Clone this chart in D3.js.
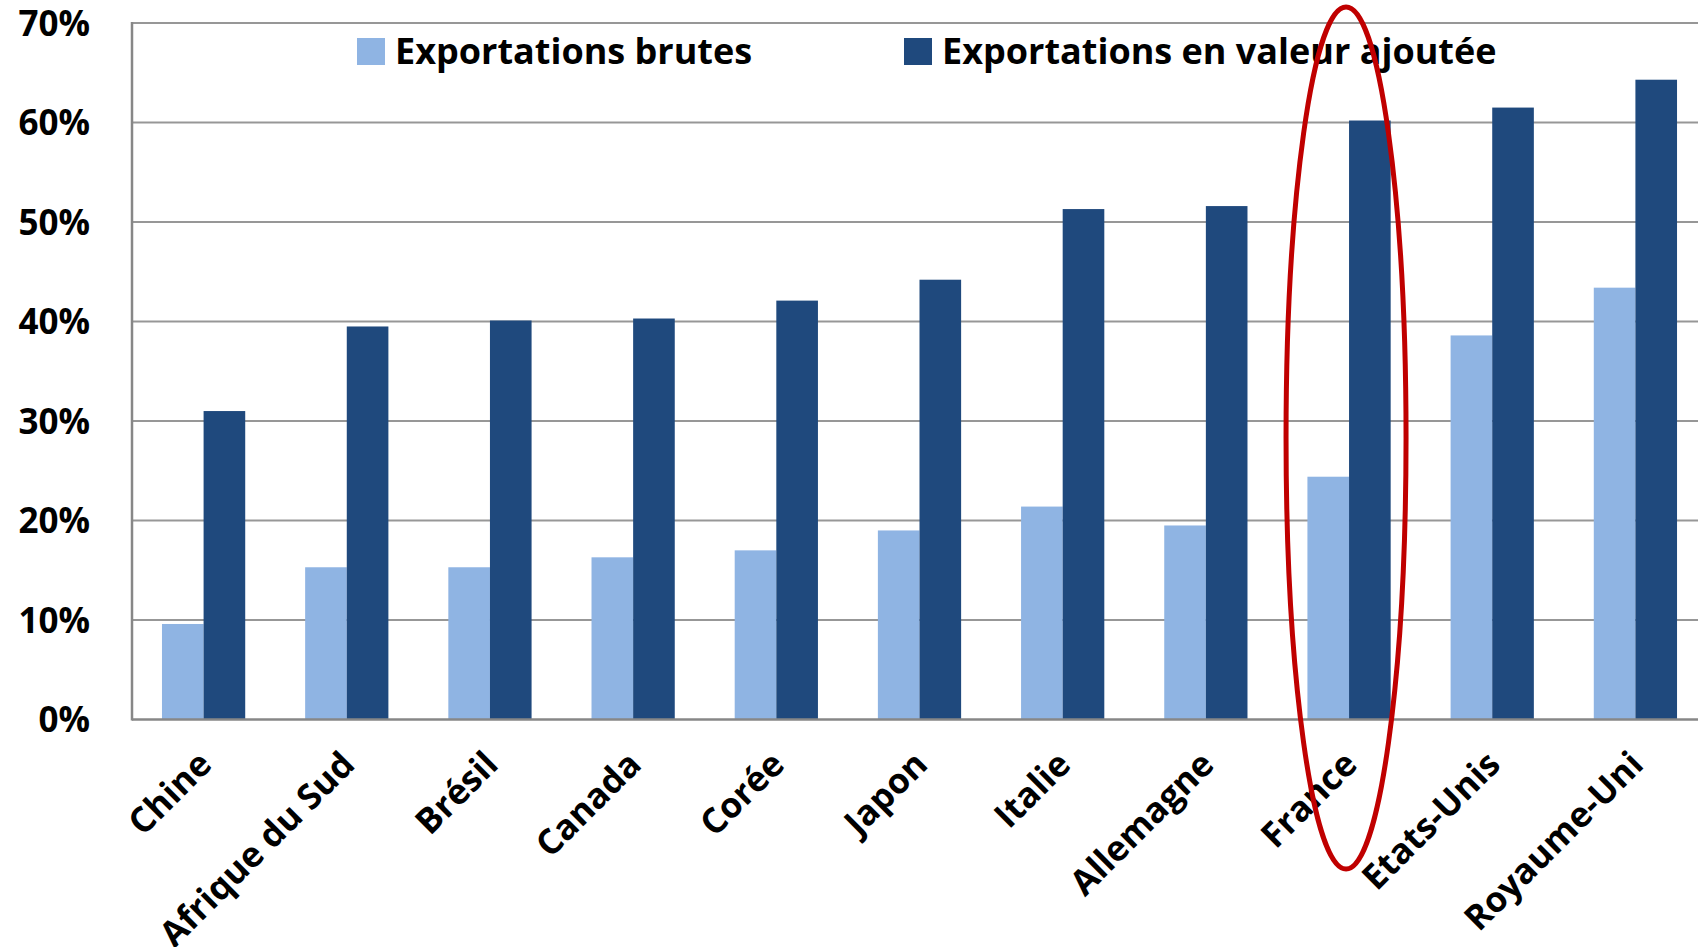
<!DOCTYPE html>
<html>
<head>
<meta charset="utf-8">
<script src="https://cdn.jsdelivr.net/npm/d3@7"></script>
<style>
  body { margin: 0; background: #fff; }
  svg { display: block; font-family: "Open Sans", sans-serif; font-weight: bold; }
</style>
</head>
<body>
<svg id="chart"></svg>
<script>
// --- data ---
const countries = ["Chine", "Afrique du Sud", "Brésil", "Canada", "Corée", "Japon",
                   "Italie", "Allemagne", "France", "Etats-Unis", "Royaume-Uni"];
const grossExports = [9.6, 15.3, 15.3, 16.3, 17.0, 19.0, 21.4, 19.5, 24.4, 38.6, 43.4];
const valueAddedExports = [31.0, 39.5, 40.1, 40.3, 42.1, 44.2, 51.3, 51.6, 60.2, 61.5, 64.3];
const seriesNames = ["Exportations brutes", "Exportations en valeur ajoutée"];
const yTicks = [0, 10, 20, 30, 40, 50, 60, 70];
const highlighted = "France";

const colors = ["#8FB4E3", "#1F497D"];

// --- dimensions ---
const width = 1698, height = 947;
// the plot area runs a little past the right edge of the picture
const margin = { top: 23, right: -9, bottom: 227.5, left: 132 };
const plotBottom = height - margin.bottom;

const svg = d3.select("#chart").attr("width", width).attr("height", height);

const x = d3.scaleBand().domain(countries).range([margin.left, width - margin.right]).padding(0);
const xs = d3.scaleBand().domain([0, 1]).range([0, x.bandwidth()]).paddingInner(0).paddingOuter(0.72);
const y = d3.scaleLinear().domain([0, 70]).range([plotBottom, margin.top]);

// gridlines
svg.append("g")
  .selectAll("line")
  .data(yTicks.filter(d => d > 0))
  .join("line")
  .attr("x1", margin.left).attr("x2", width)
  .attr("y1", d => y(d)).attr("y2", d => y(d))
  .attr("stroke", "#979797").attr("stroke-width", 2);

// y tick labels
svg.append("g")
  .selectAll("text")
  .data(yTicks)
  .join("text")
  .attr("x", 90)
  .attr("y", d => y(d))
  .attr("dy", "0.36em")
  .attr("text-anchor", "end")
  .attr("font-size", 35)
  .attr("fill", "#000")
  .text(d => d + "%");

// bars
const rows = countries.map((c, i) => ({ country: c, values: [grossExports[i], valueAddedExports[i]] }));
const groups = svg.append("g")
  .selectAll("g")
  .data(rows)
  .join("g")
  .attr("transform", d => `translate(${x(d.country)},0)`);

groups.selectAll("rect")
  .data(d => d.values.map((v, k) => ({ k, v })))
  .join("rect")
  .attr("x", d => xs(d.k))
  .attr("width", xs.bandwidth())
  .attr("y", d => y(d.v))
  .attr("height", d => y(0) - y(d.v))
  .attr("fill", d => colors[d.k]);

// axes lines
svg.append("line")
  .attr("x1", margin.left).attr("x2", margin.left)
  .attr("y1", y(70) - 1).attr("y2", y(0) + 1)
  .attr("stroke", "#878787").attr("stroke-width", 2.5);
svg.append("line")
  .attr("x1", margin.left).attr("x2", width)
  .attr("y1", y(0)).attr("y2", y(0))
  .attr("stroke", "#878787").attr("stroke-width", 2.5);

// x labels
svg.append("g")
  .selectAll("text")
  .data(countries)
  .join("text")
  .attr("transform", d => `translate(${x(d) + x.bandwidth() / 2 + 10},${plotBottom + 47}) rotate(-45)`)
  .attr("text-anchor", "end")
  .attr("font-size", 35)
  .attr("fill", "#000")
  .text(d => d);

// legend
const legendX = [357, 904];
const legend = svg.append("g")
  .selectAll("g")
  .data(seriesNames)
  .join("g")
  .attr("transform", (d, i) => `translate(${legendX[i]},38)`);
legend.append("rect")
  .attr("width", 28).attr("height", 27)
  .attr("fill", (d, i) => colors[i]);
legend.append("text")
  .attr("x", 38).attr("y", 26)
  .attr("font-size", 36)
  .attr("fill", "#000")
  .text(d => d);

// red ellipse around France
svg.append("ellipse")
  .attr("cx", x(highlighted) + x.bandwidth() / 2 - 3)
  .attr("cy", 438)
  .attr("rx", 60)
  .attr("ry", 431)
  .attr("fill", "none")
  .attr("stroke", "#C00000")
  .attr("stroke-width", 5);
</script>
</body>
</html>
